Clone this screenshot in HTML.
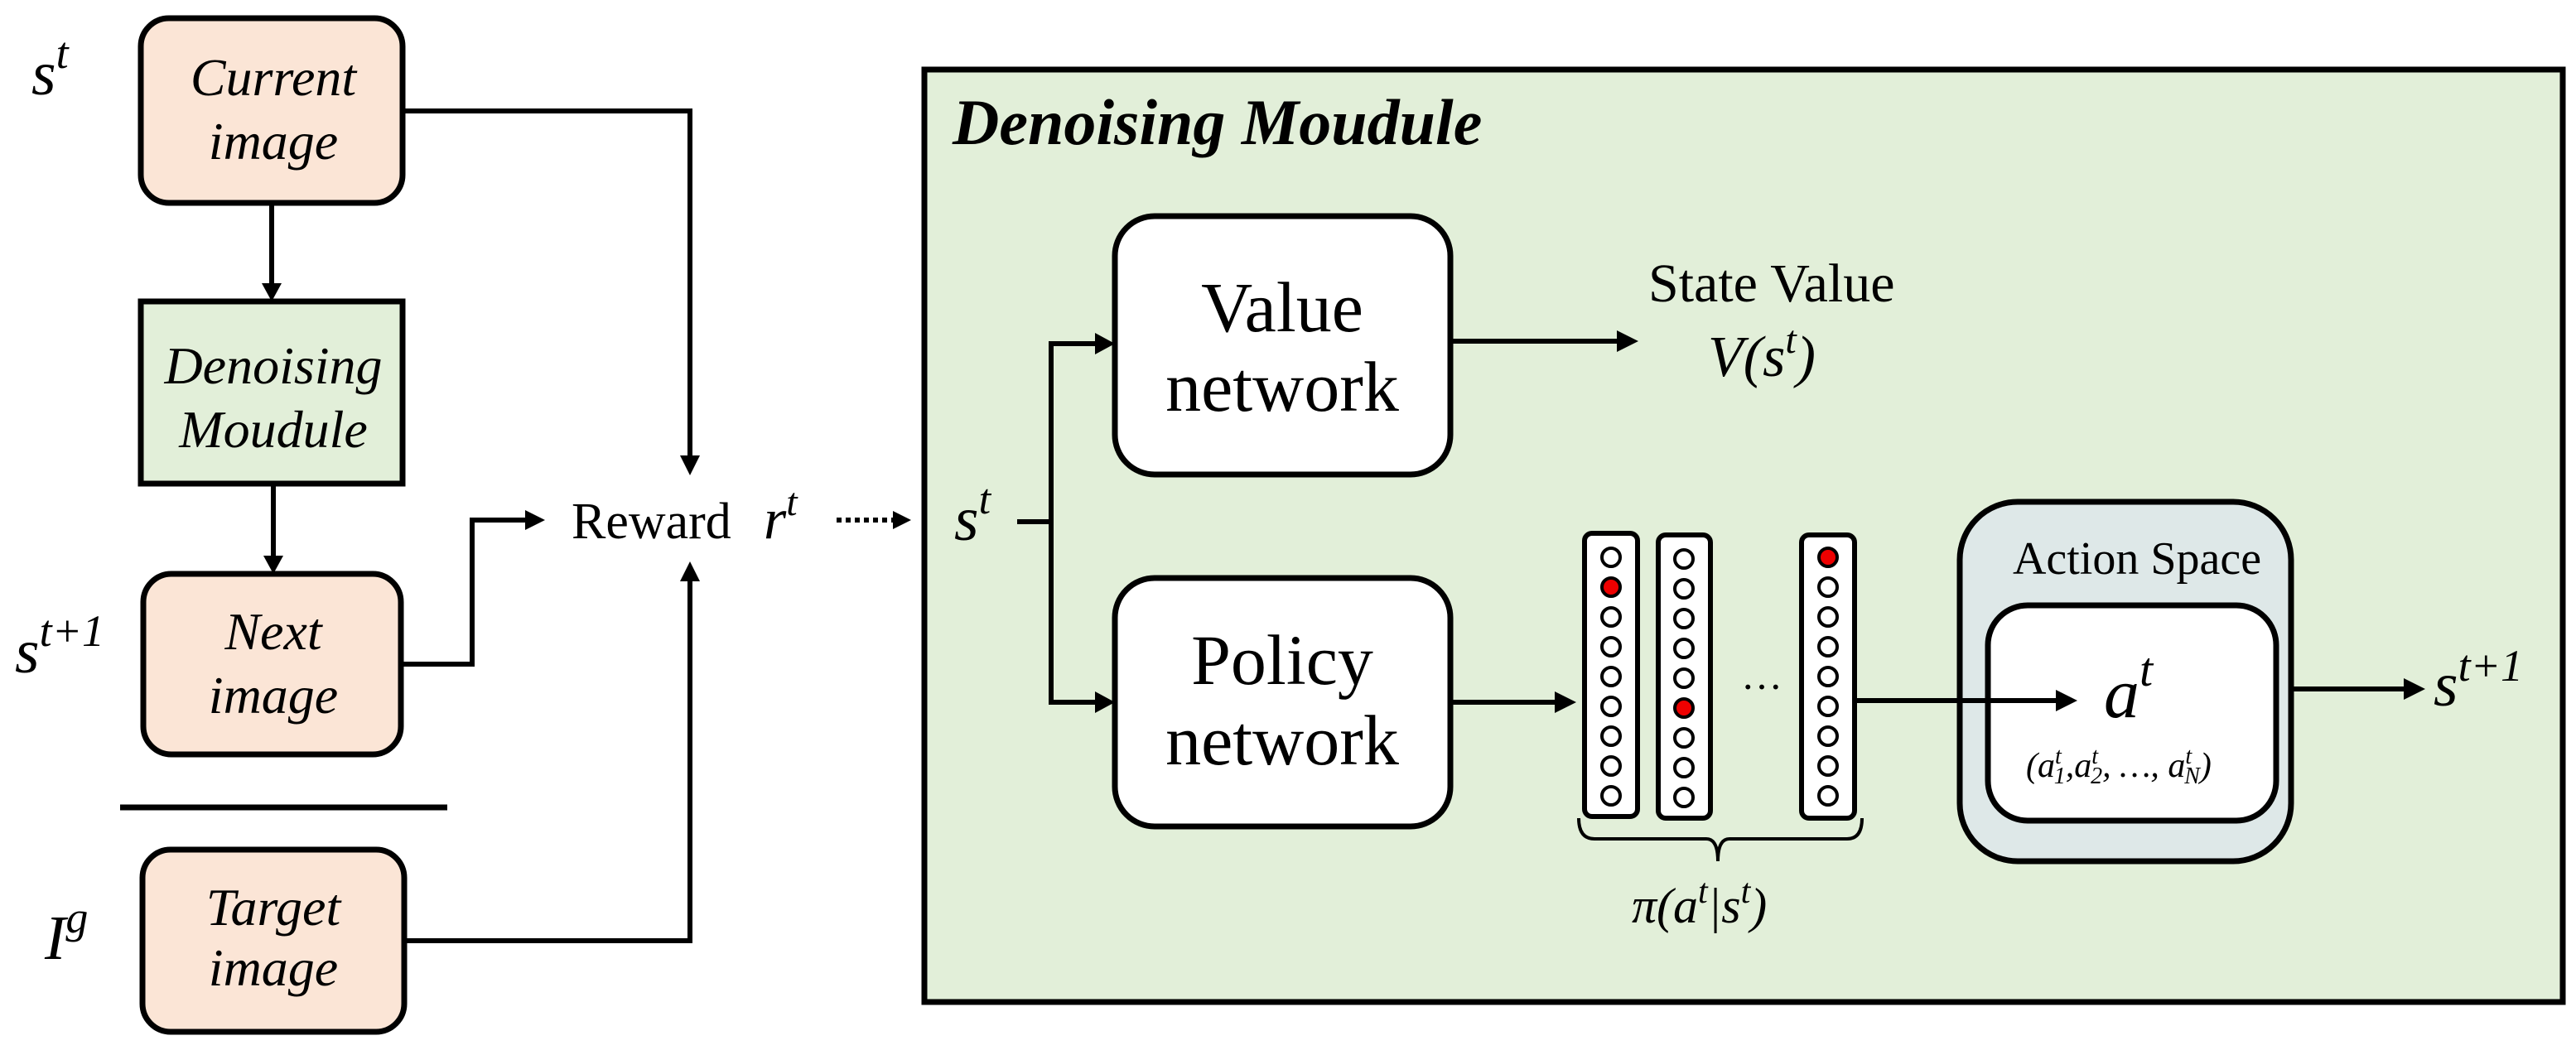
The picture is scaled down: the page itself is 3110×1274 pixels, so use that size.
<!DOCTYPE html>
<html><head><meta charset="utf-8"><style>
html,body{margin:0;padding:0;background:#fff;}
svg{display:block;}
text{font-family:"Liberation Serif",serif;fill:#000;}
.it{font-style:italic;}
</style></head><body>
<svg width="3110" height="1274" viewBox="0 0 3110 1274" xmlns="http://www.w3.org/2000/svg">
<!-- LEFT side -->
<g stroke="#000" stroke-width="7">
<rect x="170" y="22" width="316" height="223" rx="34" fill="#fbe5d6"/>
<rect x="170" y="364" width="316" height="220" fill="#e2efd9"/>
<rect x="173" y="693" width="311" height="218" rx="34" fill="#fbe5d6"/>
<rect x="172" y="1026" width="316" height="220" rx="34" fill="#fbe5d6"/>
</g>
<line x1="145" y1="975" x2="540" y2="975" stroke="#000" stroke-width="7"/>
<g font-size="64" text-anchor="middle">
<text class="it" x="330" y="115">Current</text>
<text class="it" x="330" y="192">image</text>
<text class="it" x="330" y="463">Denoising</text>
<text class="it" x="330" y="540">Moudule</text>
<text class="it" x="330" y="784">Next</text>
<text class="it" x="330" y="861">image</text>
<text class="it" x="330" y="1117">Target</text>
<text class="it" x="330" y="1190">image</text>
</g>
<text class="it" x="38" y="114" font-size="76">s<tspan font-size="54" dy="-32">t</tspan></text>
<text class="it" x="18" y="812" font-size="76">s<tspan font-size="54" dy="-32">t+1</tspan></text>
<text class="it" x="54" y="1158" font-size="76">I<tspan font-size="54" dy="-32">g</tspan></text>

<g stroke="#000" stroke-width="6" fill="none">
<line x1="328" y1="245" x2="328" y2="345"/>
<line x1="330" y1="585" x2="330" y2="674"/>
<polyline points="486,134 833,134 833,552"/>
<polyline points="484,802 570,802 570,628 636,628"/>
<polyline points="488,1136 833,1136 833,700"/>
<line x1="1010" y1="628" x2="1080" y2="628" stroke-dasharray="6,5"/>
</g>
<g fill="#000">
<polygon points="316,342 340,342 328,364"/>
<polygon points="318,671 342,671 330,693"/>
<polygon points="821,550 845,550 833,574"/>
<polygon points="821,702 845,702 833,678"/>
<polygon points="634,616 634,640 658,628"/>
<polygon points="1078,617 1078,639 1100,628"/>
</g>
<text x="690" y="650" font-size="62">Reward</text>
<text class="it" x="922" y="650" font-size="70">r<tspan font-size="48" dy="-28">t</tspan></text>

<!-- RIGHT panel -->
<rect x="1116" y="84" width="1978" height="1126" fill="#e2efd9" stroke="#000" stroke-width="7"/>
<text x="1150" y="174" font-size="78" font-weight="bold" font-style="italic">Denoising Moudule</text>

<g stroke="#000" stroke-width="7" fill="#fff">
<rect x="1346" y="261" width="405" height="312" rx="48"/>
<rect x="1346" y="698" width="405" height="300" rx="48"/>
</g>
<g font-size="86" text-anchor="middle">
<text x="1548" y="400">Value</text>
<text x="1548" y="496">network</text>
<text x="1548" y="826">Policy</text>
<text x="1548" y="923">network</text>
</g>
<text class="it" x="1152" y="652" font-size="76">s<tspan font-size="52" dy="-32">t</tspan></text>
<g stroke="#000" stroke-width="6" fill="none">
<line x1="1228" y1="630" x2="1269" y2="630"/>
<polyline points="1325,415 1269,415 1269,848 1325,848"/>
<line x1="1751" y1="412" x2="1955" y2="412"/>
<line x1="1751" y1="848" x2="1880" y2="848"/>
</g>
<g fill="#000">
<polygon points="1322,402 1322,428 1346,415"/>
<polygon points="1322,835 1322,861 1346,848"/>
<polygon points="1952,399 1952,425 1978,412"/>
<polygon points="1877,835 1877,861 1903,848"/>
</g>
<text x="1990" y="364" font-size="66">State Value</text>
<text class="it" x="2062" y="454" font-size="70">V(s<tspan font-size="48" dy="-28">t</tspan><tspan dy="28">)</tspan></text>

<!-- columns -->
<g stroke="#000" stroke-width="6" fill="#fff">
<rect x="1913" y="644" width="64" height="342" rx="9"/>
<rect x="2002" y="646" width="63" height="342" rx="9"/>
<rect x="2175" y="646" width="64" height="342" rx="9"/>
</g>
<g stroke="#000" stroke-width="4" fill="#fff">
<circle cx="1945" cy="673" r="11"/><circle cx="1945" cy="709" r="11" fill="#e00"/><circle cx="1945" cy="745" r="11"/><circle cx="1945" cy="781" r="11"/><circle cx="1945" cy="817" r="11"/><circle cx="1945" cy="853" r="11"/><circle cx="1945" cy="889" r="11"/><circle cx="1945" cy="925" r="11"/><circle cx="1945" cy="961" r="11"/>
<circle cx="2033" cy="675" r="11"/><circle cx="2033" cy="711" r="11"/><circle cx="2033" cy="747" r="11"/><circle cx="2033" cy="783" r="11"/><circle cx="2033" cy="819" r="11"/><circle cx="2033" cy="855" r="11" fill="#e00"/><circle cx="2033" cy="891" r="11"/><circle cx="2033" cy="927" r="11"/><circle cx="2033" cy="963" r="11"/>
<circle cx="2207" cy="673" r="11" fill="#e00"/><circle cx="2207" cy="709" r="11"/><circle cx="2207" cy="745" r="11"/><circle cx="2207" cy="781" r="11"/><circle cx="2207" cy="817" r="11"/><circle cx="2207" cy="853" r="11"/><circle cx="2207" cy="889" r="11"/><circle cx="2207" cy="925" r="11"/><circle cx="2207" cy="961" r="11"/>
</g>
<text x="2102" y="832" font-size="50">…</text>
<path d="M1906,988 Q1906,1013 1925,1013 L2060,1013 Q2074,1013 2074,1040 Q2074,1013 2088,1013 L2230,1013 Q2248,1013 2248,988" fill="none" stroke="#000" stroke-width="4"/>
<text class="it" x="1970" y="1114" font-size="60">π(a<tspan font-size="42" dy="-24">t</tspan><tspan dy="24">|s</tspan><tspan font-size="42" dy="-24">t</tspan><tspan dy="24">)</tspan></text>

<!-- action space -->
<rect x="2366" y="606" width="400" height="434" rx="70" fill="#dee8e8" stroke="#000" stroke-width="7"/>
<text x="2580" y="693" font-size="56" text-anchor="middle">Action Space</text>
<rect x="2400" y="731" width="348" height="260" rx="48" fill="#fff" stroke="#000" stroke-width="7"/>
<text class="it" x="2540" y="866" font-size="86">a<tspan font-size="58" dy="-38">t</tspan></text>
<text class="it" x="2446" y="938" font-size="42">(a<tspan font-size="28" dy="-16">t</tspan><tspan font-size="28" dx="-9" dy="24">1</tspan><tspan dy="-8">,a</tspan><tspan font-size="28" dy="-16">t</tspan><tspan font-size="28" dx="-9" dy="24">2</tspan><tspan dy="-8">, …, a</tspan><tspan font-size="28" dy="-16">t</tspan><tspan font-size="28" dx="-9" dy="24">N</tspan><tspan dy="-8">)</tspan></text>
<g stroke="#000" stroke-width="6">
<line x1="2240" y1="846" x2="2485" y2="846"/>
<line x1="2766" y1="832" x2="2905" y2="832"/>
</g>
<g fill="#000">
<polygon points="2482,833 2482,859 2508,846"/>
<polygon points="2902,819 2902,845 2928,832"/>
</g>
<text class="it" x="2938" y="852" font-size="76">s<tspan font-size="54" dy="-30">t+1</tspan></text>
</svg>
</body></html>
